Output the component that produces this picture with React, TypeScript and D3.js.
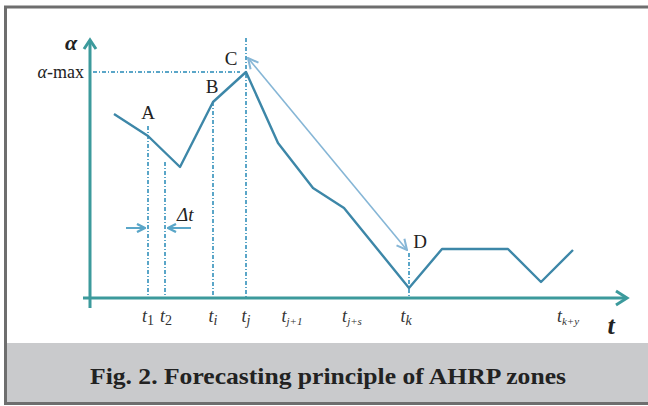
import React from "react";
import * as d3 from "d3";

const width = 648;
const height = 406;

// alpha curve (t in arbitrary units, alpha in arbitrary units)
const curveT = [24, 58, 90, 123, 156, 188, 223, 254, 319, 352, 418, 451, 483];
const curveA = [184, 162, 131, 196, 226, 155, 110, 90, 10, 49, 49, 16, 48];

// marked time points
const tickNames = ["1", "2", "i", "j", "j+1", "j+s", "k", "k+y"];
const tickT = [58, 76, 123, 156, 202, 262, 316, 478];

// dotted guides: time, top alpha
const guideT = [58, 75, 123, 156, 319];
const guideTop = [172, 136, 196, 260, 45];

const pointNames = ["A", "B", "C", "D"];
const pointT = [58, 122, 141, 330];
const pointA = [179, 205, 233, 50];

const alphaMax = 226;

const axisColor = "#3c9a9c";
const lineColor = "#3d87a8";
const guideColor = "#5aa6c8";
const arrowColor = "#86b6d6";

export default function App() {
  const x = d3.scaleLinear().domain([0, 540]).range([90, 630]);
  const y = d3.scaleLinear().domain([0, 260]).range([298, 38]);

  const pts: [number, number][] = curveT.map((t, i) => [x(t), y(curveA[i])]);
  const line = d3.line()(pts) || "";

  const serif = "'Liberation Serif', 'DejaVu Serif', serif";

  // double arrow C -> D
  const ax1 = x(158), ay1 = y(240);
  const ax2 = x(317), ay2 = y(48);

  return (
    <svg width={width} height={height} style={{ position: "absolute", left: 0, top: 0 }}>
      <defs>
        <marker id="open" viewBox="0 0 10 10" refX="9" refY="5" markerWidth="8" markerHeight="8" orient="auto-start-reverse">
          <path d="M1,1 L9,5 L1,9" fill="none" stroke={arrowColor} strokeWidth="1.6" />
        </marker>
        <marker id="dt" viewBox="0 0 10 10" refX="9" refY="5" markerWidth="5" markerHeight="5" orient="auto">
          <path d="M1,1 L9,5 L1,9" fill="none" stroke={guideColor} strokeWidth="2.4" />
        </marker>
      </defs>
      <rect x={0} y={0} width={width} height={height} fill="#fff" />
      {/* frame */}
      <rect x={6} y={343} width={width} height={59} fill="#c9cacc" />
      <path d={`M${width},7 H5.5 V403.5 H${width}`} fill="none" stroke="#6e6e6e" strokeWidth={3} />

      {/* alpha-max guide */}
      <line x1={93} x2={x(150)} y1={y(alphaMax)} y2={y(alphaMax)} stroke={guideColor} strokeWidth={1.8} strokeDasharray="4,2,1,2" />

      {/* vertical guides */}
      {guideT.map((t, i) => (
        <line key={i} x1={x(t)} x2={x(t)} y1={y(guideTop[i])} y2={y(0)} stroke={guideColor} strokeWidth={2} strokeDasharray="4,2,1,2" />
      ))}

      {/* axes */}
      <line x1={83} x2={x(535)} y1={y(0)} y2={y(0)} stroke={axisColor} strokeWidth={3} />
      <path d={`M${x(526)},${y(0) - 7} L${x(537)},${y(0)} L${x(526)},${y(0) + 7}`} fill="none" stroke={axisColor} strokeWidth={3} />
      <line x1={x(0)} x2={x(0)} y1={308} y2={y(256)} stroke={axisColor} strokeWidth={3} />
      <path d={`M${x(0) - 6},${y(249)} L${x(0)},${y(258)} L${x(0) + 6},${y(249)}`} fill="none" stroke={axisColor} strokeWidth={3} />

      {/* curve */}
      <path d={line} fill="none" stroke={lineColor} strokeWidth={2.4} strokeLinejoin="round" />

      {/* C-D arrow */}
      <line x1={ax1} y1={ay1} x2={ax2} y2={ay2} stroke={arrowColor} strokeWidth={1.6} markerStart="url(#open)" markerEnd="url(#open)" />

      {/* delta t arrows */}
      <line x1={x(36)} x2={x(55)} y1={228} y2={228} stroke={guideColor} strokeWidth={2} markerEnd="url(#dt)" />
      <line x1={x(101)} x2={x(78)} y1={228} y2={228} stroke={guideColor} strokeWidth={2} markerEnd="url(#dt)" />
      <text x={x(87)} y={221} fontFamily={serif} fontSize={19} fontStyle="italic" fill="#222">Δt</text>

      {/* point labels */}
      {pointNames.map((n, i) => (
        <text key={n} x={x(pointT[i])} y={y(pointA[i])} fontFamily={serif} fontSize={19} textAnchor="middle" fill="#222">{n}</text>
      ))}

      {/* axis labels */}
      <text x={x(-19)} y={y(248)} fontFamily={serif} fontSize={22} fontStyle="italic" fontWeight="bold" textAnchor="middle" fill="#222">α</text>
      <text x={84} y={y(alphaMax) + 6} fontFamily={serif} fontSize={18} textAnchor="end" fill="#222">
        <tspan fontStyle="italic">α</tspan>-max
      </text>
      <text x={x(521)} y={334} fontFamily={serif} fontSize={26} fontStyle="italic" fontWeight="bold" textAnchor="middle" fill="#222">t</text>

      {/* tick labels */}
      {tickNames.map((n, i) => (
        <text key={n} x={x(tickT[i])} y={322} fontFamily={serif} textAnchor="middle" fill="#333">
          <tspan fontSize={18} fontStyle="italic">t</tspan>
          <tspan fontSize={n.length > 1 ? 11 : 14} fontStyle={/\d/.test(n) && n.length === 1 ? "normal" : "italic"} dy={3}>{n}</tspan>
        </text>
      ))}

      {/* caption */}
      <text x={328} y={384} fontFamily={serif} fontSize={23} fontWeight="bold" textAnchor="middle" textLength={476} lengthAdjust="spacingAndGlyphs" fill="#222">
        Fig. 2. Forecasting principle of AHRP zones
      </text>
    </svg>
  );
}
